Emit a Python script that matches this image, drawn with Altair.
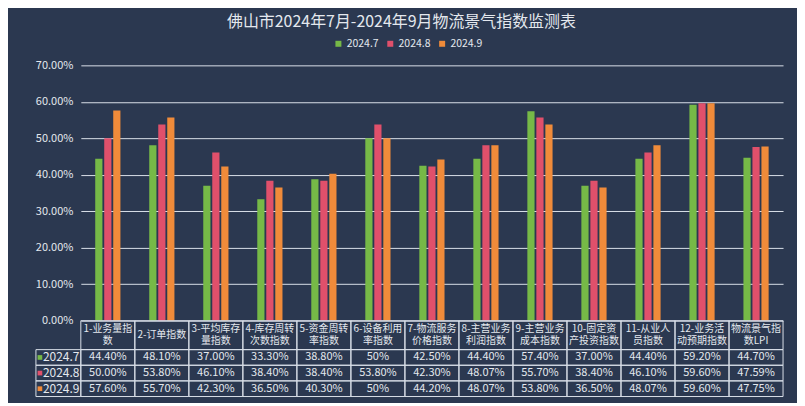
import altair as alt
import pandas as pd

title = "佛山市2024年7月-2024年9月物流景气指数监测表"
series = ["2024.7", "2024.8", "2024.9"]
colours = ["#76b947", "#e0506b", "#f08b3a"]

categories = ["1-业务量指数", "2-订单指数", "3-平均库存量指数", "4-库存周转次数指数",
              "5-资金周转率指数", "6-设备利用率指数", "7-物流服务价格指数", "8-主营业务利润指数",
              "9-主营业务成本指数", "10-固定资产投资指数", "11-从业人员指数", "12-业务活动预期指数",
              "物流景气指数LPI"]
# header text as wrapped in the data table
header_labels = ["1-业务量指\n数", "2-订单指数", "3-平均库存\n量指数", "4-库存周转\n次数指数",
                 "5-资金周转\n率指数", "6-设备利用\n率指数", "7-物流服务\n价格指数", "8-主营业务\n利润指数",
                 "9-主营业务\n成本指数", "10-固定资\n产投资指数", "11-从业人\n员指数", "12-业务活\n动预期指数",
                 "物流景气指\n数LPI"]

jul = ["44.40%", "48.10%", "37.00%", "33.30%", "38.80%", "50%", "42.50%",
       "44.40%", "57.40%", "37.00%", "44.40%", "59.20%", "44.70%"]
aug = ["50.00%", "53.80%", "46.10%", "38.40%", "38.40%", "53.80%", "42.30%",
       "48.07%", "55.70%", "38.40%", "46.10%", "59.60%", "47.59%"]
sep = ["57.60%", "55.70%", "42.30%", "36.50%", "40.30%", "50%", "44.20%",
       "48.07%", "53.80%", "36.50%", "48.07%", "59.60%", "47.75%"]

bg = "#2b3850"
line_col = "#d9dfe8"
text_col = "#e4e8ee"
font = "Noto Sans CJK SC"

rows = []
for s, labels in zip(series, [jul, aug, sep]):
    for c, lab in zip(categories, labels):
        rows.append({"category": c, "series": s, "label": lab,
                     "value": float(lab.rstrip("%")) / 100})
df = pd.DataFrame(rows)

W = 704

bars = alt.Chart(df).mark_bar().encode(
    x=alt.X("category:N", sort=categories, axis=None,
            scale=alt.Scale(paddingInner=0.5, paddingOuter=0.25)),
    xOffset=alt.XOffset("series:N", sort=series,
                        scale=alt.Scale(paddingInner=0.2, paddingOuter=0.1)),
    y=alt.Y("value:Q", title=None,
            scale=alt.Scale(domain=[0, 0.7], nice=False),
            axis=alt.Axis(format=".2%", values=[0, 0.1, 0.2, 0.3, 0.4, 0.5, 0.6, 0.7],
                          domain=False, ticks=False, labelPadding=8, labelFontSize=11,
                          labelColor=text_col, gridColor=line_col, gridWidth=1)),
    color=alt.Color("series:N", sort=series,
                    scale=alt.Scale(domain=series, range=colours),
                    legend=alt.Legend(orient="none", legendX=253, legendY=-27,
                                      direction="horizontal", title=None,
                                      symbolType="square", symbolSize=36,
                                      symbolStrokeWidth=0, labelFontSize=10.5,
                                      labelColor=text_col, columnPadding=6,
                                      labelOffset=3)),
).properties(width=W, height=256)

# header row of the data table
hdr_df = pd.DataFrame({"category": categories, "header": header_labels})
hdr_df["lines"] = hdr_df["header"].str.count("\n") + 1
hdr_base = alt.Chart(hdr_df).encode(
    x=alt.X("category:N", sort=categories, axis=None,
            scale=alt.Scale(paddingInner=0, paddingOuter=0)),
)
hdr_cells = hdr_base.mark_rect(fillOpacity=0, stroke=line_col, strokeWidth=1)
hdr_one = hdr_base.mark_text(fontSize=10, baseline="middle", color=text_col).encode(
    text="header:N", y=alt.value(14.5)).transform_filter("datum.lines == 1")
hdr_two = hdr_base.mark_text(lineBreak="\n", fontSize=10, lineHeight=12.5,
                             baseline="middle", color=text_col).encode(
    text="header:N", y=alt.value(8.2)).transform_filter("datum.lines > 1")
header = alt.layer(hdr_cells, hdr_one, hdr_two).properties(width=W, height=29)

# value rows
tbl_base = alt.Chart(df).encode(
    x=alt.X("category:N", sort=categories, axis=None,
            scale=alt.Scale(paddingInner=0, paddingOuter=0)),
    y=alt.Y("series:N", sort=series, axis=None,
            scale=alt.Scale(paddingInner=0, paddingOuter=0)),
)
tbl_cells = tbl_base.mark_rect(fillOpacity=0, stroke=line_col, strokeWidth=1)
tbl_text = tbl_base.mark_text(fontSize=11, color=text_col).encode(text="label:N")

lab_base = alt.Chart(pd.DataFrame({"series": series})).encode(
    y=alt.Y("series:N", sort=series, axis=None,
            scale=alt.Scale(paddingInner=0, paddingOuter=0)),
)
lab_cells = lab_base.mark_rect(fillOpacity=0, stroke=line_col, strokeWidth=1).encode(
    x=alt.value(-45), x2=alt.value(0))
lab_sq = lab_base.mark_square(size=22, opacity=1).encode(
    x=alt.value(-41),
    color=alt.Color("series:N", scale=alt.Scale(domain=series, range=colours), legend=None))
lab_text = lab_base.mark_text(align="left", fontSize=12, color=text_col).encode(
    x=alt.value(-38), text="series:N")

table = alt.layer(tbl_cells, tbl_text, lab_cells, lab_sq, lab_text).properties(width=W, height=47)

chart = alt.vconcat(bars, header, table, spacing=0, bounds="flush").properties(
    title=alt.TitleParams(title, fontSize=16, fontWeight="normal", color=text_col,
                          offset=8, dx=-8, anchor="middle"),
    padding={"left": 27, "top": 6, "right": 13, "bottom": 5},
    background=bg,
).resolve_scale(color="independent").configure(font=font).configure_view(stroke=None)

chart.save("out.html", embed_options={"renderer": "svg", "actions": False})
